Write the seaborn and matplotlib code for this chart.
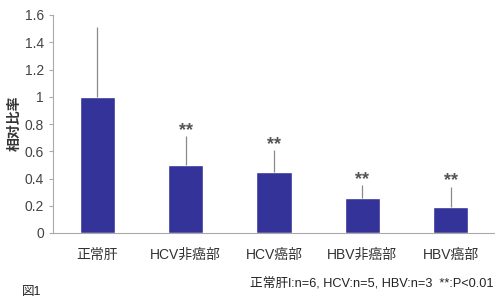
import numpy as np
import pandas as pd
import matplotlib
matplotlib.use("Agg")
import matplotlib.pyplot as plt
import seaborn as sns

# ─── Data ────────────────────────────────────────────────────────
categories = ["正常肝", "HCV非癌部", "HCV癌部", "HBV非癌部", "HBV癌部"]
ratio      = [1.00, 0.50, 0.45, 0.26, 0.19]
err_upper  = [0.51, 0.21, 0.16, 0.09, 0.15]
marks      = ["", "**", "**", "**", "**"]

sns.set_theme(style="white")
plt.rcParams["font.family"] = ["Liberation Sans", "Noto Sans CJK JP", "DejaVu Sans"]

df = pd.DataFrame({"group": categories, "ratio": ratio})

fig = plt.figure(figsize=(4.95, 2.98), dpi=100)
ax = fig.add_axes([53/495, 65/298, 442/495, 218/298])

sns.barplot(data=df, x="group", y="ratio", ax=ax, color="#333399",
            saturation=1, width=0.4, errorbar=None)
x = np.arange(len(categories))
ax.errorbar(x, ratio, yerr=[np.zeros(len(ratio)), err_upper], fmt="none",
            ecolor="#8a8a8a", elinewidth=0.9, capsize=0)

for xi, r, e, m in zip(x, ratio, err_upper, marks):
    if m:
        ax.text(xi, r + e - 0.02, m, ha="center", va="bottom",
                fontsize=13, fontweight="bold", color="#555555")

ax.set_xlim(-0.5, len(categories) - 0.5)
ax.set_ylim(0, 1.6)
ax.set_yticks([0, 0.2, 0.4, 0.6, 0.8, 1.0, 1.2, 1.4, 1.6])
ax.set_yticklabels(["0", "0.2", "0.4", "0.6", "0.8", "1", "1.2", "1.4", "1.6"])
ax.set_xticks(np.arange(-0.5, len(categories), 1.0), minor=True)
ax.tick_params(axis="x", which="major", length=0, labelsize=10, colors="#333333", pad=11)
ax.tick_params(axis="x", which="minor", length=3, color="#aaaaaa", width=0.8)
ax.tick_params(axis="y", length=3, color="#aaaaaa", width=0.8, labelsize=10,
               colors="#444444", left=True)
ax.set_xlabel("")
ax.set_ylabel("相对比率", fontsize=10, fontweight="bold", color="#333333")
ax.yaxis.set_label_coords(-0.072, 0.505)

for s in ["top", "right"]:
    ax.spines[s].set_visible(False)
for s in ["left", "bottom"]:
    ax.spines[s].set_color("#aaaaaa")
    ax.spines[s].set_linewidth(0.8)

fig.text(493/495, 1 - 283/298, "正常肝l:n=6, HCV:n=5, HBV:n=3  **:P<0.01",
         ha="right", va="center", fontsize=9.2, color="#222222")
fig.text(22/495, 0.0, "図1", ha="left", va="bottom", fontsize=9, color="#222222")

fig.savefig("out.png", dpi=100)
